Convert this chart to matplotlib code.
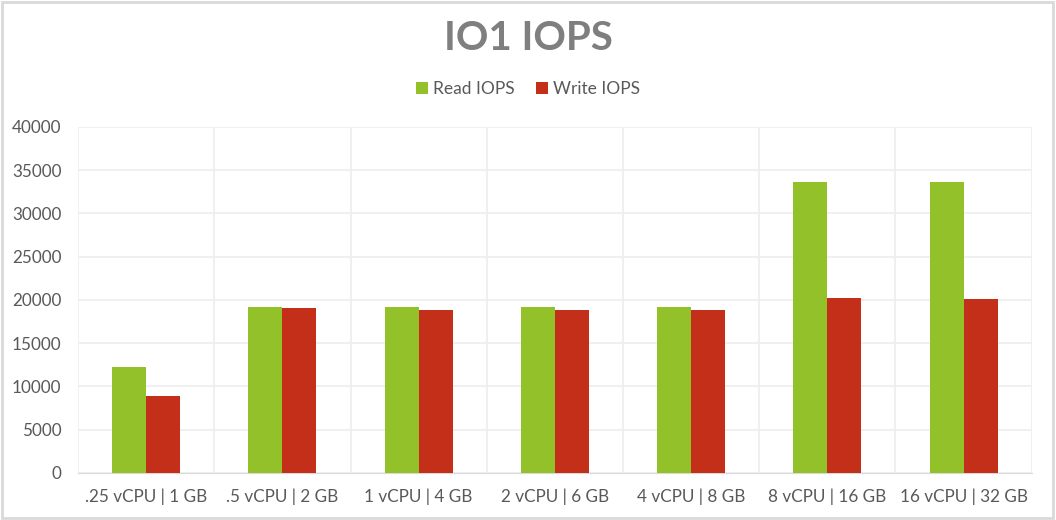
import matplotlib
matplotlib.use("Agg")
import matplotlib.pyplot as plt
import numpy as np
from matplotlib.patches import Rectangle

# ---------- data ----------
categories = ['.25 vCPU | 1 GB', '.5 vCPU | 2 GB', '1 vCPU | 4 GB', '2 vCPU | 6 GB',
              '4 vCPU | 8 GB', '8 vCPU | 16 GB', '16 vCPU | 32 GB']
read_iops = [12200, 19150, 19150, 19150, 19150, 33600, 33600]
write_iops = [8950, 19050, 18800, 18900, 18900, 20250, 20150]

green = '#92c12a'
red = '#c42f1a'
text_col = '#595959'
grid_col = '#eeeeee'

plt.rcParams['font.family'] = ['Lato', 'DejaVu Sans']

fig = plt.figure(figsize=(10.56, 5.2), dpi=100)
ax = fig.add_axes([0.0739, 0.0904, 0.9031, 0.6654])

x = np.arange(len(categories))
w = 0.25
ax.bar(x - w / 2, read_iops, w, color=green, label='Read IOPS', zorder=3)
ax.bar(x + w / 2, write_iops, w, color=red, label='Write IOPS', zorder=3)

ax.set_xlim(-0.5, len(categories) - 0.5)
ax.set_ylim(0, 40000)
ax.set_yticks(np.arange(0, 40001, 5000))
ax.set_xticks(x)
ax.set_xticklabels(categories)
ax.set_xticks(np.arange(-0.5, len(categories), 1), minor=True)

ax.grid(axis='y', color=grid_col, lw=1.2, zorder=0)
ax.grid(axis='x', which='minor', color=grid_col, lw=1.2, zorder=0)
ax.tick_params(axis='both', which='both', length=0, colors=text_col, labelsize=12.3)
ax.tick_params(axis='x', pad=11)
ax.tick_params(axis='y', pad=12)
for s in ['top', 'right', 'left']:
    ax.spines[s].set_visible(False)
ax.spines['bottom'].set_color('#d9d9d9')

fig.text(0.5, 0.925, 'IO1 IOPS', ha='center', va='center', fontsize=29,
         fontweight='bold', color='#7f7f7f')
fig.legend(loc='center', bbox_to_anchor=(0.5, 0.829), ncol=2, frameon=False,
           fontsize=12.5, handlelength=0.7, handleheight=0.7, handletextpad=0.3,
           columnspacing=1.2, labelcolor=text_col)

fig.patches.append(Rectangle((0.002, 0.003), 0.995, 0.993, transform=fig.transFigure,
                             fill=False, edgecolor='#d9d9d9', lw=2))

fig.savefig('out.png', dpi=100)
